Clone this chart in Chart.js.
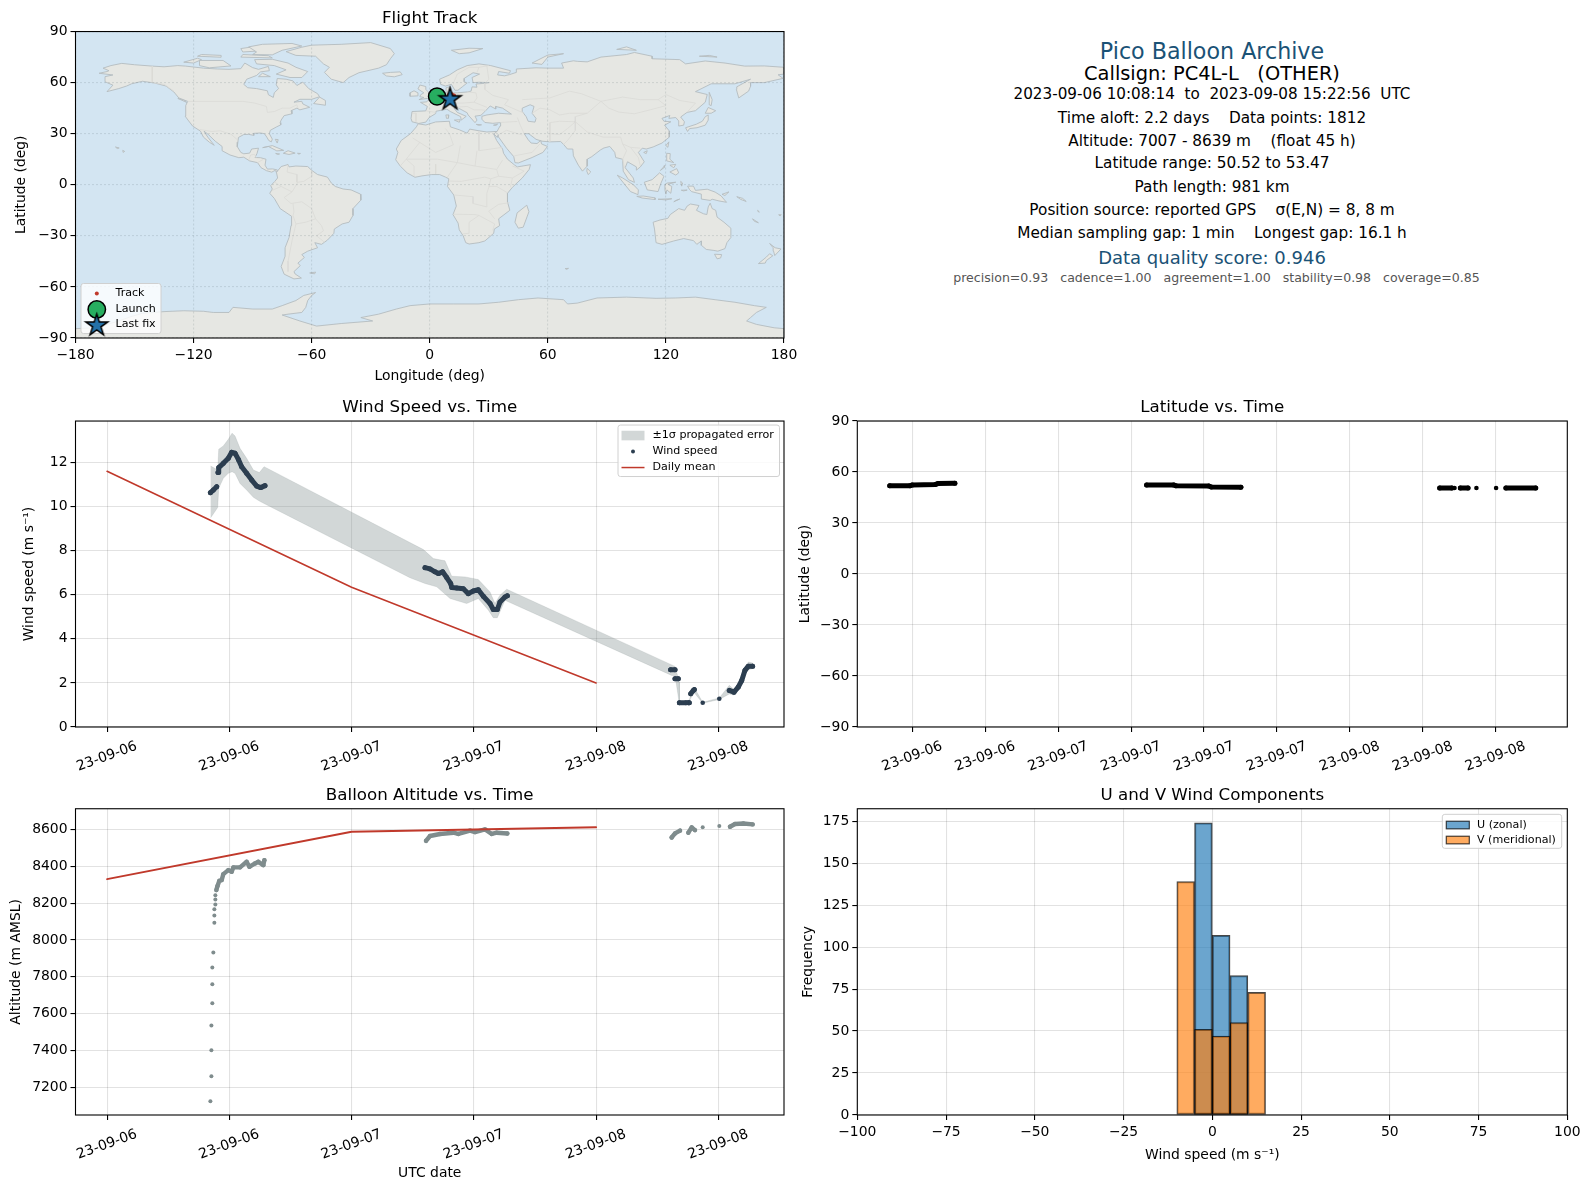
<!DOCTYPE html>
<html>
<head>
<meta charset="utf-8">
<title>Pico Balloon Archive</title>
<script src="https://cdn.jsdelivr.net/npm/chart.js@4/dist/chart.umd.js"></script>
<style>
  html, body { margin: 0; padding: 0; background: #fff; overflow: hidden; }
  body { width: 1590px; height: 1189px; position: relative; font-family: "DejaVu Sans", sans-serif; }
  canvas { position: absolute; }
  .line { position: absolute; left: 1212px; transform: translate(-50%, -50%); white-space: pre; color: #000; font-size: 15.3px; }
</style>
</head>
<body>
<script>
// ---- summary panel
const panelLines = [
  ['Pico Balloon Archive', 50.7, 22.2, '#1a5276', 1212],
  ['Callsign: PC4L-L   (OTHER)', 73, 19.4, '#000', 1212],
  ['2023-09-06 10:08:14  to  2023-09-08 15:22:56  UTC', 94.3, 15.2, '#000', 1212],
  ['Time aloft: 2.2 days    Data points: 1812', 117.6, 15.3, '#000', 1212],
  ['Altitude: 7007 - 8639 m    (float 45 h)', 141, 15.3, '#000', 1212],
  ['Latitude range: 50.52 to 53.47', 163.3, 15.3, '#000', 1212],
  ['Path length: 981 km', 186.6, 15.3, '#000', 1212],
  ['Position source: reported GPS    σ(E,N) = 8, 8 m', 210, 15.3, '#000', 1212],
  ['Median sampling gap: 1 min    Longest gap: 16.1 h', 233.3, 15.3, '#000', 1212],
  ['Data quality score: 0.946', 256.6, 18, '#1a5276', 1212],
  ['precision=0.93   cadence=1.00   agreement=1.00   stability=0.98   coverage=0.85', 277, 12.55, '#555', 1216.5]
];

// ---- ticks (time axes are hours since 2023-09-06 00:00 UTC)
const lonTicks = [-180, -120, -60, 0, 60, 120, 180];
const latTicks = [-90, -60, -30, 0, 30, 60, 90];
const wideHourTicks = [0, 12, 24, 36, 48, 60];
const wideHourLabels = ['23-09-06', '23-09-06', '23-09-07', '23-09-07', '23-09-08', '23-09-08'];
const latHourTicks = [12, 18, 24, 30, 36, 42, 48, 54, 60];
const latHourLabels = ['23-09-06', '23-09-06', '23-09-07', '23-09-07', '23-09-07', '23-09-07', '23-09-08', '23-09-08', '23-09-08'];
const windTicks = [0, 2, 4, 6, 8, 10, 12];
const altTicks = [7200, 7400, 7600, 7800, 8000, 8200, 8400, 8600];
const histXTicks = [-100, -75, -50, -25, 0, 25, 50, 75, 100];
const histYTicks = [0, 25, 50, 75, 100, 125, 150, 175];

// ---- flight track
const trackLon = [3.7, 5.5, 7.5, 9.5, 11.5, 12.5, 12.0, 11.0, 10.3];
const trackLat = [51.9, 52.3, 52.6, 52.9, 53.2, 52.6, 52.0, 51.0, 50.8];
const launchFix = [3.7, 51.9];
const lastFix = [10.3, 50.8];

// ---- wind speed
const windRun1Hours = [10.14, 10.43, 10.76];
const windRun1Speed = [10.63, 10.75, 10.90];
const windRun2Hours = [10.89, 10.96, 11.41, 11.90, 12.23, 12.56, 12.89, 13.21, 13.70, 14.20, 14.69, 15.08, 15.50];
const windRun2Speed = [11.55, 11.77, 11.96, 12.19, 12.46, 12.42, 12.14, 11.81, 11.51, 11.20, 10.93, 10.86, 10.95];
const windRun3Hours = [31.21, 31.70, 32.19, 32.52, 32.94, 33.34, 33.73, 33.83, 34.32, 34.97, 35.46, 35.95, 36.44, 36.93, 37.59, 37.91, 38.31, 38.57, 39.06, 39.29];
const windRun3Speed = [7.23, 7.17, 7.04, 6.96, 7.04, 6.78, 6.51, 6.33, 6.31, 6.27, 6.05, 6.17, 6.23, 5.93, 5.60, 5.33, 5.33, 5.67, 5.90, 5.95];
const windRun4Hours = [55.32, 55.75];
const windRun4Speed = [2.60, 2.60];
const windRun5Hours = [55.75, 56.07];
const windRun5Speed = [2.19, 2.19];
const windRun6Hours = [56.18, 56.83];
const windRun6Speed = [1.10, 1.10];
const windRun7Hours = [57.06, 57.15];
const windRun7Speed = [1.10, 1.10];
const windRun8Hours = [57.29, 57.55, 57.65];
const windRun8Speed = [1.51, 1.66, 1.70];
const windRun9Hours = [61.08, 61.54, 61.96, 62.30, 62.62, 62.95, 63.37];
const windRun9Speed = [1.66, 1.58, 1.81, 2.11, 2.57, 2.76, 2.76];
const windDotHours = [58.47, 60.10];
const windDotSpeed = [1.10, 1.28];

const bandUpper = [[10.17, 11.84], [10.86, 11.66], [10.96, 12.6], [11.41, 12.75], [11.9, 13.05], [12.27, 13.33], [12.56, 13.2], [13.05, 12.64], [13.7, 12.19], [14.36, 11.66], [14.95, 11.54], [15.41, 11.81], [31.05, 8.05], [32.03, 7.64], [33.17, 7.54], [33.83, 6.84], [35.14, 6.81], [36.44, 6.69], [37.59, 6.13], [38.08, 5.6], [38.57, 5.98], [39.23, 6.25], [55.75, 2.75], [56.18, 2.04], [56.18, 1.15], [57.06, 1.15], [57.65, 1.78], [58.47, 1.12], [60.1, 1.32], [61.08, 1.89], [61.54, 1.7], [62.3, 2.25], [62.62, 2.7], [62.95, 2.95], [63.37, 2.9]];
const bandLower = [[10.17, 9.49], [10.86, 9.96], [10.96, 10.83], [11.41, 11.28], [11.9, 11.51], [12.27, 11.58], [12.56, 11.51], [13.05, 11.05], [13.7, 10.75], [14.36, 10.42], [14.95, 10.25], [15.41, 10.14], [29.74, 6.77], [31.21, 6.51], [32.36, 6.36], [33.67, 5.83], [35.3, 5.6], [36.44, 5.83], [37.43, 5.3], [37.91, 4.96], [38.31, 4.96], [39.06, 5.75], [55.42, 2.34], [55.75, 2.34], [56.18, 1.05], [57.06, 1.05], [57.29, 1.3], [57.65, 1.55], [58.47, 1.08], [60.1, 1.25], [61.08, 1.5], [61.54, 1.45], [62.3, 1.95], [62.62, 2.4], [62.95, 2.6], [63.37, 2.65]];

const dailyHours = [0, 24, 48];
const dailyWind = [11.6, 6.34, 2.0];
const dailyAlt = [8330, 8587, 8612];

// ---- latitude
const latRun1Hours = [10.14, 11.8, 12.0, 13.9, 14.1, 15.5];
const latRun1Lat = [51.9, 51.9, 52.4, 52.7, 53.2, 53.4];
const latRun2Hours = [31.28, 33.5, 33.7, 36.4, 36.6, 39.04];
const latRun2Lat = [52.4, 52.4, 51.9, 51.8, 51.2, 51.1];
const latRun3Hours = [55.4, 56.4];
const latRun3Lat = [50.6, 50.6];
const latRun4Hours = [57.1, 57.73];
const latRun4Lat = [50.6, 50.6];
const latRun5Hours = [60.85, 63.3];
const latRun5Lat = [50.6, 50.6];
const latDotHours = [56.62, 58.42, 60.04];
const latDotLat = [50.6, 50.6, 50.6];

// ---- altitude
const riseHours = [10.14, 10.24, 10.24, 10.24, 10.33, 10.33, 10.33, 10.43, 10.53, 10.53, 10.53, 10.63, 10.63, 10.63];
const riseAlt = [7124, 7260, 7401, 7536, 7656, 7759, 7851, 7932, 8093, 8133, 8166, 8193, 8220, 8242];
const altRun1Hours = [10.73, 10.83, 11.02, 11.25, 11.41, 11.9, 12.23, 12.4, 13.05, 13.7, 13.97, 14.52, 14.85, 15.34, 15.44];
const altRun1Alt = [8271, 8292, 8321, 8325, 8357, 8379, 8370, 8394, 8394, 8424, 8397, 8415, 8424, 8406, 8433];
const altRun2Hours = [31.31, 31.7, 32.68, 33.99, 34.48, 35.63, 36.12, 37.1, 37.76, 38.25, 39.29];
const altRun2Alt = [8538, 8564, 8575, 8582, 8575, 8593, 8585, 8600, 8575, 8582, 8578];
const altRun3Hours = [55.42, 55.75, 56.24];
const altRun3Alt = [8556, 8578, 8593];
const altRun4Hours = [57.06, 57.39, 57.71];
const altRun4Alt = [8582, 8611, 8596];
const altRun5Hours = [61.15, 61.64, 62.46, 63.37];
const altRun5Alt = [8614, 8629, 8632, 8627];
const altDotHours = [58.47, 60.1];
const altDotAlt = [8611, 8618];

// ---- wind component histogram, 5 m/s bins
const uBinCenters = [-2.5, 2.5, 7.5];
const uCounts = [174, 107, 83];
const vBinCenters = [-7.5, -2.5, 2.5, 7.5, 12.5];
const vCounts = [139, 51, 47, 55, 73];

// ---- map outlines [lon, lat]
const northAmerica = [[-168,65.5],[-164,66.5],[-163,67],[-166,68.5],[-162,70],[-156.5,71.3],[-150,70.5],[-141,69.7],[-135,69.3],[-128,70],[-124,69.7],[-115,68.5],[-108,68],[-102,67.8],[-96,68.2],[-94,71.5],[-90,68.8],[-87,67.8],[-82,69.5],[-81.5,67],[-86,66.3],[-88,64.2],[-93,62],[-94.5,59],[-92.5,57],[-88,56.5],[-82.5,55.2],[-82,52.9],[-79.5,51.3],[-79,54],[-76.8,56.5],[-78,58.7],[-77.5,62.4],[-73,62],[-69.5,61],[-67.5,58.3],[-64.5,60.3],[-61.5,56.5],[-57,53.5],[-56,51.7],[-60,50.2],[-66,50.2],[-69,48.5],[-65,49],[-64.5,47.5],[-61,45.5],[-66,44],[-67.5,45],[-70.5,43.5],[-70,41.7],[-74,40.6],[-75.5,38],[-76,36.5],[-75.7,35.2],[-78,33.9],[-81,32],[-81.5,30],[-80,26.8],[-80.5,25.2],[-81.8,26],[-82.8,28],[-84,30],[-86,30.4],[-89.5,30.2],[-89.4,29],[-92,29.6],[-94.5,29.5],[-97.2,27.8],[-97.5,25],[-97.8,22.4],[-96,19],[-94.5,18.2],[-91.5,18.6],[-90.5,21],[-87,21.5],[-87.8,18.3],[-88.8,16],[-86,15.9],[-83.2,15],[-83.7,11.5],[-82.5,9.2],[-79.8,9.3],[-77.4,8.7],[-77.9,7.3],[-78.5,8.5],[-80.3,7.4],[-83,8.3],[-85.7,10],[-87.5,13],[-91.5,14],[-94.5,16.2],[-97,15.9],[-101.5,17.5],[-105.5,20],[-105.5,22.5],[-109,25.6],[-112.5,29.5],[-114.7,31.5],[-112.8,28],[-109.5,23.2],[-112,25],[-115,28],[-116.5,31.5],[-120.5,34.5],[-122.5,37.5],[-124.3,40.3],[-124,46.5],[-123,49],[-127.5,51],[-130,54.5],[-134,58],[-140,59.8],[-146,60.8],[-151.5,59.3],[-154,58],[-158,56.5],[-164,54.7],[-161,58.5],[-165,60.5],[-165,63.5],[-161,64.5],[-168,65.5]];
const greenland = [[-73,78.2],[-68,76],[-58,75.5],[-54,71],[-51,69],[-53.5,66],[-50,62],[-44,60],[-41,63],[-36,65.8],[-26,68.5],[-22,70.5],[-20,74],[-18,77],[-20,80],[-30,83.5],[-45,82.5],[-60,82],[-65,80.8],[-73,78.2]];
const baffin = [[-80,73.7],[-72,71.5],[-68,69],[-62,66.5],[-65,63],[-71,63],[-78,65],[-73,67.5],[-79,70],[-88,71],[-89,73.5],[-80,73.7]];
const victoriaIsland = [[-117,73],[-105,73],[-101,69.8],[-112,68.7],[-117,70],[-117,73]];
const banksIsland = [[-125,72],[-118,74.3],[-116,73.5],[-120,71.5],[-125,72]];
const ellesmere = [[-90,76.5],[-80,76.3],[-75,79],[-65,81.5],[-70,83],[-85,82.5],[-92,81],[-88,78],[-90,76.5]];
const devon = [[-96,75],[-80,74.5],[-82,75.8],[-95,76.5],[-96,75]];
const melville = [[-118,75.5],[-106,74.9],[-106,76],[-116,76.5],[-118,75.5]];
const axelHeiberg = [[-95,78],[-88,78.5],[-90,81],[-96,80],[-95,78]];
const southampton = [[-87,63.5],[-81,63.5],[-85,65.5],[-87,63.5]];
const newfoundland = [[-59,47.7],[-53,46.7],[-53,49.5],[-56,51.5],[-59,47.7]];
const vancouverIsland = [[-128,50.7],[-123.5,48.4],[-125,50],[-128,50.7]];
const cuba = [[-84.9,21.8],[-80,23],[-74.2,20.2],[-77.7,19.9],[-82,22.5],[-84.9,21.8]];
const hispaniola = [[-74.4,18.5],[-72,20],[-68.4,18.6],[-71.5,17.8],[-74.4,18.5]];
const jamaica = [[-78.3,18.4],[-76.3,18.1],[-77.2,17.8],[-78.3,18.4]];
const puertoRico = [[-67.2,18.5],[-65.7,18.4],[-66.5,18],[-67.2,18.5]];
const bahamas = [[-78.5,26.7],[-77,26.5],[-77.5,24.5],[-78.5,26.7]];
const hawaii = [[-156,20.2],[-155,19.6],[-155.8,19],[-156,20.2]];
const oahu = [[-159.7,22.2],[-157.8,21.6],[-158.8,21.3],[-159.7,22.2]];
const southAmerica = [[-77.9,7.3],[-75.5,10.7],[-72,11.9],[-71.5,10.5],[-68,11],[-62,10.7],[-60,8.5],[-57,6],[-52,4.5],[-50,1],[-48,-1],[-44,-2.5],[-40,-3],[-35.2,-5.5],[-35,-9],[-39,-14],[-39,-18],[-41,-22],[-44.5,-23],[-48.5,-26],[-48.7,-28.5],[-52,-32.5],[-55,-35],[-58.4,-34],[-57,-37],[-62,-39],[-65,-41],[-63.7,-42.7],[-67,-46],[-65.8,-47.5],[-69,-51],[-68.4,-52.4],[-65.2,-54.8],[-69,-55.3],[-74,-52.5],[-75.5,-48],[-73.5,-42],[-73.5,-37],[-71.5,-31],[-70.5,-24],[-70.2,-18.5],[-76,-14],[-79,-8],[-81.3,-5],[-80,-2.5],[-80.8,-0.5],[-78.7,2],[-77.3,4],[-77.9,7.3]];
const falklands = [[-61,-51.8],[-58,-51.3],[-58.5,-52.3],[-61,-51.8]];
const africa = [[-5.9,35.8],[-2,35.1],[3,36.9],[10,37.3],[10.5,34],[15,32.3],[19,30.3],[20.3,32.7],[25,31.7],[29,31],[32.3,31.2],[34.2,31.3],[32.5,29.8],[34,26],[37,21],[37.5,18.5],[39.5,15],[43.2,11.5],[44.5,10.5],[51.2,11.8],[50.5,9],[47,4],[42,-1.5],[39.5,-5],[39.5,-10],[40.7,-15],[35,-20],[35.5,-24],[32.8,-26],[32.5,-28.5],[28,-33],[25,-34],[20,-34.8],[18.3,-34],[17,-30],[15,-26.5],[14.4,-22.5],[11.8,-17.5],[13.5,-12.5],[12.2,-6],[9,-1],[9.7,3.5],[8,4.5],[5,6],[1,6],[-4,5.2],[-7.5,4.4],[-11.5,7],[-15,11],[-17.3,14.7],[-16.2,19],[-17,21],[-14.5,26],[-9.8,30],[-6.8,34],[-5.9,35.8]];
const madagascar = [[49.3,-12],[50.4,-15.8],[47.5,-24.9],[45,-25.5],[43.3,-22],[44.4,-16.5],[49.3,-12]];
const eurasia = [[-5.6,36],[-9,37],[-9.5,39],[-9,43],[-2,43.4],[-1.2,46],[-4.7,48.4],[-1.5,48.7],[-1,49.5],[2.5,51],[4.5,52.5],[7,53.5],[8.5,54],[8.3,57],[10.5,57.7],[10,55],[12,54],[14,54],[19,54.5],[21,55],[21.5,57.5],[24,57.3],[23.5,59.2],[28,59.6],[30,60],[25,60.2],[22,60],[21.5,63],[25.3,65],[22,65.8],[17.5,62.5],[17.5,60.5],[19,59.8],[16.5,57.5],[14.3,55.5],[12.8,55.5],[11,59],[8,58],[5.5,59],[5,62],[10,64.5],[14,67.5],[19,70],[25,71],[31,70],[41,67],[40.5,65.5],[35,66.5],[34.5,64.5],[38,64],[40.5,64.7],[44,66],[44,68],[54,68.7],[60,68.5],[68,68.5],[67,71.5],[73,72.8],[75,72.5],[80,72.2],[87,75],[100,76.5],[104,77.7],[113,75.5],[113,74],[127,73.5],[130,71],[140,72.7],[150,71.5],[160,69.7],[170,69.8],[180,69],[180,65],[177,64.6],[179.5,62.5],[170,60],[163,60],[163,57.8],[162,55],[157,51],[155.8,56],[156,57.5],[163,62],[155,59.3],[143,59.3],[135,54.7],[141,53],[140,48.5],[135,43.5],[130.7,42.5],[127.5,39.8],[129.4,37],[129,35],[126.5,34.5],[126.5,37.5],[125,39.5],[121.5,39],[122,40.7],[118,39],[119,37.3],[122.5,37],[119.3,35],[121.8,31.5],[121.7,28],[118,24.5],[113.5,22.2],[110,21],[108,21.5],[106,19],[109,13.5],[107,10.5],[105,8.6],[105,10.5],[100.5,13.5],[99.3,10],[103.4,4],[104,1.4],[101,3],[98.3,8],[98,15],[94.5,16],[94,19],[91.5,22.5],[88.5,21.6],[86.8,20.5],[82.3,16.5],[80,15],[80,11],[77.6,8],[75.5,11.5],[73,17],[72.7,21],[70,21],[68,23.7],[66.5,25.4],[61,25.2],[57,25.6],[54,26.7],[50.3,30],[48,30],[50,26.5],[51.5,24.5],[54.5,24.2],[56.4,26],[56.8,24],[59.8,22.5],[57.5,19],[52,16],[45,12.8],[43.3,13],[42.7,16.5],[39,21.5],[35,28],[34.8,29.5],[34.3,27.8],[32.6,29.9],[32.3,31.2],[34.2,31.3],[35.7,34.5],[36,36.5],[32,36.1],[28,36.6],[26.5,38.5],[26.5,40.2],[29,41],[35,42],[41.5,41.5],[37,45],[33.5,46],[33.5,44.5],[30.7,46.3],[28,43],[26,40.8],[23,40.3],[24,38],[23,36.5],[19.5,41],[19,42.3],[13.7,45.6],[12.3,45],[14,42.5],[18.5,40.2],[16,38],[15.7,40],[10.5,43],[8.7,44.4],[3.2,43.2],[3,41.8],[-0.3,39.5],[-2,36.8],[-5.6,36]];
const caspianSea = [[47,45],[51,47],[53,46],[52,42],[54,39],[53.5,36.8],[50,37.3],[49,40],[47,43],[47,45]];
const britain = [[-5.5,50],[1.3,51.2],[1.7,52.7],[-0.3,54],[-2,56],[-2,57.7],[-5,58.6],[-6,56.3],[-3,54],[-4.7,52.8],[-5,51.7],[-3,51.3],[-5.5,50]];
const ireland = [[-10,52],[-6.3,52.2],[-6,54],[-8,55.2],[-10,54],[-10,52]];
const iceland = [[-24,65.5],[-22,63.9],[-18,63.4],[-14,64.7],[-15,66.3],[-20,66],[-24,65.5]];
const svalbard = [[11,79],[20,80.2],[27,80],[20,77.5],[15,77],[11,79]];
const novayaZemlya = [[52,71.5],[57,70.7],[60,75],[68,77],[60,76.2],[52,71.5]];
const severnaya = [[95,79.5],[105,79],[100,81],[95,79.5]];
const newSiberian = [[137,75.5],[146,75],[142,76],[137,75.5]];
const sakhalin = [[142,54.3],[143.5,50],[143,46.5],[142,47],[142,51],[142,54.3]];
const honshu = [[130,33.5],[131,31.3],[132,33],[135.8,33.5],[140,35],[141.5,38],[141.5,41],[140,40],[138.5,37.3],[135.5,35.6],[130,33.5]];
const hokkaido = [[140,42],[141.5,45.4],[145.3,43.5],[143,42],[140,42]];
const taiwan = [[120,23],[121.5,25.2],[121,22],[120,23]];
const hainan = [[108.7,19],[110.5,20],[110,18.3],[108.7,19]];
const sriLanka = [[80,9.7],[81.8,7.5],[80.5,6],[79.8,8],[80,9.7]];
const sicily = [[12.5,38],[15.5,38.2],[15,36.7],[12.5,38]];
const sardinia = [[8.2,41],[9.7,41],[9.5,39.1],[8.5,39],[8.2,41]];
const crete = [[23.6,35.5],[26.3,35.2],[24.8,34.9],[23.6,35.5]];
const cyprus = [[32.4,35],[34.5,35.6],[33.7,34.9],[32.4,35]];
const luzon = [[120.4,18.5],[122.2,18.3],[122,15],[124,13],[120.5,14],[120.4,18.5]];
const mindanao = [[122,7.5],[125.5,9.5],[126.5,7],[125,5.7],[122,7.5]];
const visayas = [[122,11.5],[125,12],[124,10],[122,11.5]];
const palawan = [[117.2,8.4],[119.5,11.3],[119.2,10.2],[117.2,8.4]];
const borneo = [[109,1.5],[113,3],[116.8,7],[119,5],[117.5,1],[116,-4],[110.5,-3],[109,1.5]];
const sumatra = [[95.3,5.6],[98,4],[103.5,0],[106,-3],[105.8,-5.8],[102,-4],[98.5,1],[95.3,5.6]];
const java = [[105.2,-6.8],[108.5,-6.6],[114.5,-7.7],[114.5,-8.7],[108,-7.8],[105.2,-6.8]];
const sulawesi = [[119.5,0],[120.5,1],[125,1.5],[121,0.3],[123,-1],[122.5,-5],[120.5,-3],[120,-5.5],[119.5,-3],[119.5,0]];
const newGuinea = [[131,-0.8],[134,-0.8],[135,-3.3],[141,-2.6],[145,-4.3],[148,-6.5],[150.8,-10.3],[147,-9.5],[143.5,-8.5],[142.5,-9.2],[138,-8.4],[138,-5.5],[133,-4],[132,-2.8],[131,-0.8]];
const timor = [[124,-10],[127,-8.4],[125,-9.2],[124,-10]];
const flores = [[116,-8.5],[123,-8.2],[120,-8.9],[116,-8.5]];
const halmahera = [[127.5,2],[128.5,1],[128,-0.8],[127.5,2]];
const ceram = [[127.8,-3.2],[130.8,-3.1],[129,-3.6],[127.8,-3.2]];
const newBritain = [[148.5,-5.6],[152,-4.2],[150,-6.3],[148.5,-5.6]];
const solomons = [[156,-7],[159,-8],[160.8,-9.8],[158,-8.6],[156,-7]];
const vanuatu = [[166.6,-15],[167.5,-16],[166.8,-15.8],[166.6,-15]];
const newCaledonia = [[164,-20],[167,-22.3],[165,-21.5],[164,-20]];
const fiji = [[177.3,-17.6],[178.6,-17.6],[178,-18.3],[177.3,-17.6]];
const kerguelen = [[68.8,-49.2],[70.5,-49.1],[69.5,-49.7],[68.8,-49.2]];
const australia = [[113.5,-22],[114.2,-26],[115,-34],[118,-35],[124,-33],[129,-31.6],[134,-32.8],[135.7,-35],[138,-33],[138,-35.5],[140.5,-38],[144,-38.5],[146.4,-39],[150,-37.5],[151,-34],[153,-31],[153,-25.5],[149.5,-22],[146,-19],[145.3,-15],[143.5,-14],[142.5,-10.8],[141.5,-13],[140.8,-17.5],[139,-17],[135.5,-15],[136.8,-12.2],[132.5,-11.3],[130.8,-12.5],[129.5,-15],[126.5,-14],[122.2,-17.5],[121,-19.7],[117,-20.7],[113.5,-22]];
const tasmania = [[144.7,-40.8],[148.3,-41],[147.8,-43],[146,-43.5],[144.7,-40.8]];
const newZealandNorth = [[172.7,-34.5],[175.5,-37],[178.5,-37.7],[177,-39.5],[175.3,-41.6],[174.7,-39],[174.5,-37],[172.7,-34.5]];
const newZealandSouth = [[172.7,-40.5],[174.3,-41.7],[171,-44.5],[170.5,-46],[167,-46.3],[171,-42.5],[172.7,-40.5]];
const antarctica = [[-180,-90],[-180,-84.5],[-170,-84],[-158,-80],[-152,-77.5],[-146,-75.5],[-135,-74.5],[-125,-74],[-115,-74.3],[-110,-75],[-102,-75],[-100,-72],[-90,-73],[-80,-73],[-75,-71],[-68,-68],[-64,-65],[-58,-63.3],[-60,-65],[-62,-68],[-63,-72],[-65,-75],[-72,-76],[-75,-76.5],[-66,-80],[-57.5,-83],[-45,-81.5],[-29,-80],[-35,-78],[-26,-76],[-17,-73],[-10,-71],[0,-70],[12,-70],[25,-70],[35,-69],[45,-67.5],[55,-66.5],[68,-67.5],[70,-70],[75,-69.5],[85,-66.5],[100,-66],[115,-66.7],[125,-66.5],[135,-66],[145,-67.5],[155,-69],[165,-71],[171,-72],[166,-75],[163,-78],[161,-80],[166,-82],[175,-84],[180,-84.5],[180,-90],[-180,-90]];

const landShapes = [northAmerica, greenland, baffin, victoriaIsland, banksIsland, ellesmere, devon, melville, axelHeiberg, southampton, newfoundland, vancouverIsland, cuba, hispaniola, jamaica, puertoRico, bahamas, hawaii, oahu, southAmerica, falklands, africa, madagascar, eurasia, britain, ireland, iceland, svalbard, novayaZemlya, severnaya, newSiberian, sakhalin, honshu, hokkaido, taiwan, hainan, sriLanka, sicily, sardinia, crete, cyprus, luzon, mindanao, visayas, palawan, borneo, sumatra, java, sulawesi, newGuinea, timor, flores, halmahera, ceram, newBritain, solomons, vanuatu, newCaledonia, fiji, kerguelen, australia, tasmania, newZealandNorth, newZealandSouth, antarctica];

const borderLines = [
  [[-123,49],[-95,49],[-89,48],[-83,46],[-82.5,42.5],[-79,43],[-75,45],[-71,45],[-67.5,47],[-67,45]],
  [[-141,69.7],[-141,60],[-135,59],[-130,55]],
  [[-117,32.5],[-111,31.3],[-106.5,31.7],[-101,29.7],[-97.2,25.9]],
  [[-92,14.5],[-91,17.5],[-89,17.9],[-88.2,15.8]],
  [[-87.5,13],[-84.5,15]],
  [[-72,11.5],[-72.5,7.5],[-67.5,6],[-67.5,1.5]],
  [[-60,8],[-60,5],[-64,2],[-67,1.5],[-70,-4.2],[-74,-7.5],[-70.5,-11],[-65,-10],[-60,-14],[-58,-20],[-55,-24],[-54,-27],[-57.5,-30],[-53.5,-33.7]],
  [[-69.5,-18],[-68,-23],[-70,-33],[-72,-45],[-72,-51]],
  [[-69.5,-11],[-69,-16],[-69.5,-18]],
  [[-80.3,-3.4],[-75.5,-1],[-70,-4.2]],
  [[-78.7,1.5],[-75.5,-1]],
  [[-68,-23],[-63,-22],[-58,-20]],
  [[-8.7,27.5],[3,19],[12,23.5],[10,30],[8,33]],
  [[25,31.5],[25,20],[37,22]],
  [[24,20],[23,11]],
  [[15.5,23],[14,13]],
  [[3,12],[3,6.5]],
  [[14,13],[9,4.5]],
  [[9.7,2.2],[16,2],[28,4.5],[31,3.5],[35,5],[42,4],[41,-1.5]],
  [[37,14.5],[34,9],[35,5]],
  [[42,11],[48,8],[42,4]],
  [[12.5,-6],[22,-7],[22,-11],[29,-13],[29,-5],[30,-1.5],[31,3.5]],
  [[12,-17.3],[23,-17.5],[25,-18]],
  [[17,-28.8],[20,-28.5],[20,-22],[25,-18]],
  [[25,-18],[33,-23],[32,-26.8]],
  [[30,-1],[34,-1],[39.5,-4.7]],
  [[40.5,-10.5],[35,-11.5],[30,-15.5],[33,-20]],
  [[-12,15],[4,15],[14,13],[23,11],[34,9]],
  [[-5,25],[-12,15],[-15,11]],
  [[-8,5],[-8,11],[-12,15]],
  [[28,59.5],[28,56],[32,52.5],[40,50],[38,47]],
  [[38,47],[48,42]],
  [[47,50],[61,51],[71,55],[77,53.5],[87,49]],
  [[87,49],[98,51.5],[107,50],[116,50],[120,46.5],[112,44],[104,41.7],[96,42.7],[91,45],[87,49]],
  [[116,50],[120,53],[127,49.5],[135,48],[131,43],[130.7,42.5]],
  [[74,37],[80,31],[88,28],[97,28],[98,24],[102,22],[107,21.5]],
  [[87,49],[80,42],[74,40],[74,37]],
  [[74,37],[74,32],[70,26],[68,23.7]],
  [[44.5,39.5],[46,35],[48,30]],
  [[61,36.5],[61,25.2]],
  [[36,36.6],[44.5,37.2]],
  [[35,29.5],[39,32],[47,29.2]],
  [[43,17],[52,19],[56,24]],
  [[61,36.5],[66,37.3],[74,37]],
  [[61,30],[66,29.5],[70,33],[74,37]],
  [[52,42],[56,45],[61,44],[66,41],[71,42],[80,42]],
  [[98,24],[100,20],[98,15],[99,10]],
  [[102,22],[106,16],[107,11]],
  [[-1.8,43.4],[3,42.5]],
  [[-9,42],[-7,42],[-7,37.2]],
  [[2.5,51],[6,49.5],[8,49],[7.5,47.6],[7,44]],
  [[7,53.5],[6,51],[6,49.5]],
  [[14,54],[15,51],[12.5,50],[13,48],[10,47.3],[7.5,47.6]],
  [[19,54.5],[23.5,54],[24,51],[22.5,48.5],[17,48],[13,48]],
  [[22.5,48.5],[29,45.5]],
  [[13.7,45.6],[19,46],[22.5,44],[26,44],[28.5,43.7]],
  [[12,59],[12.5,61],[14,65],[20,69],[25,69],[30,70]],
  [[24,66],[25,69]],
  [[28,59.6],[30,62],[29,70]]
];

// ---- look
const FONT = '"DejaVu Sans", sans-serif';
Chart.defaults.font.family = FONT;
Chart.defaults.font.size = 13.9;
Chart.defaults.color = '#000';
const GRID = 'rgba(0,0,0,0.115)';
const minus = s => String(s).replace('-', '\u2212');
const pairs = (xs, ys) => xs.map((x, i) => ({ x: x, y: ys[i] }));
const lonLat = list => list.map(p => ({ x: p[0], y: p[1] }));

function starMarker(radius, fill) {
  const c = document.createElement('canvas');
  c.width = c.height = Math.ceil(radius * 2 + 6);
  const ctx = c.getContext('2d');
  ctx.translate(c.width / 2, c.height / 2 + 1);
  ctx.beginPath();
  for (let i = 0; i < 10; i++) {
    const r = i % 2 ? radius * 0.382 : radius;
    const a = -Math.PI / 2 + i * Math.PI / 5;
    ctx[i ? 'lineTo' : 'moveTo'](r * Math.cos(a), r * Math.sin(a));
  }
  ctx.closePath();
  ctx.fillStyle = fill;
  ctx.fill();
  ctx.lineWidth = 1.5;
  ctx.lineJoin = 'miter';
  ctx.strokeStyle = '#000';
  ctx.stroke();
  return c;
}
const blueStar = starMarker(11.5, '#2471a8');

// title centred over the plot box, black frame round it, legend box inside it
const panelPlugin = {
  id: 'panel',
  afterLayout(chart) {
    chart.titleBlock.left = chart.chartArea.left;
    chart.titleBlock.right = chart.chartArea.right;
  },
  beforeDraw(chart, args, opts) {
    if (!opts.background) return;
    const a = chart.chartArea;
    chart.ctx.fillStyle = opts.background;
    chart.ctx.fillRect(a.left, a.top, a.right - a.left, a.bottom - a.top);
  },
  afterDraw(chart, args, opts) {
    const a = chart.chartArea, ctx = chart.ctx;
    ctx.save();
    ctx.strokeStyle = '#000';
    ctx.lineWidth = 1.1;
    ctx.strokeRect(a.left, a.top, a.right - a.left, a.bottom - a.top);
    if (opts.legend) drawLegend(chart, opts.legend);
    ctx.restore();
  }
};

function drawLegend(chart, lg) {
  const ctx = chart.ctx, a = chart.chartArea;
  const x = (lg.fromRight !== undefined ? a.right - lg.fromRight : a.left + lg.fromLeft);
  const y = (lg.fromBottom !== undefined ? a.bottom - lg.fromBottom : a.top + lg.fromTop);
  ctx.beginPath();
  ctx.roundRect(x, y, lg.w, lg.h, 2.5);
  ctx.fillStyle = 'rgba(255,255,255,0.8)';
  ctx.fill();
  ctx.strokeStyle = '#d0d0d0';
  ctx.lineWidth = 1;
  ctx.stroke();
  ctx.font = '11.1px ' + FONT;
  ctx.textBaseline = 'middle';
  lg.items.forEach(it => {
    const cx = x + lg.handle + 11.5, cy = y + it.dy;
    if (it.kind === 'patch') {
      const ph = it.h || 7.6;
      ctx.fillStyle = it.fill;
      ctx.fillRect(x + lg.handle, cy - ph / 2, 23, ph);
      if (it.edge) {
        ctx.strokeStyle = it.edge;
        ctx.lineWidth = 1.2;
        ctx.strokeRect(x + lg.handle, cy - ph / 2, 23, ph);
      }
    } else if (it.kind === 'line') {
      ctx.strokeStyle = it.color;
      ctx.lineWidth = 1.5;
      ctx.beginPath();
      ctx.moveTo(x + lg.handle, cy);
      ctx.lineTo(x + lg.handle + 23, cy);
      ctx.stroke();
    } else if (it.kind === 'dot') {
      ctx.beginPath();
      ctx.arc(cx, cy, it.r, 0, Math.PI * 2);
      ctx.fillStyle = it.color;
      ctx.fill();
      if (it.edge) {
        ctx.lineWidth = 1.5;
        ctx.strokeStyle = it.edge;
        ctx.stroke();
      }
    } else if (it.kind === 'star') {
      ctx.drawImage(it.img, cx - it.img.width / 2, cy - it.img.height / 2);
    }
    ctx.fillStyle = '#000';
    ctx.fillText(it.text, x + lg.textAt, cy);
  });
}

function axis(o) {
  const horizontal = o.dir === 'x';
  const ax = {
    type: 'linear',
    position: horizontal ? 'bottom' : 'left',
    min: o.min,
    max: o.max,
    offset: false,
    afterBuildTicks(s) { s.ticks = o.ticks.map(v => ({ value: v })); },
    afterFit(s) {
      if (horizontal) s.height = o.size; else s.width = o.size;
      s.paddingLeft = s.paddingRight = s.paddingTop = s.paddingBottom = 0;
    },
    ticks: {
      autoSkip: false,
      maxRotation: o.rotate || 0,
      minRotation: o.rotate || 0,
      padding: o.tickPad === undefined ? 3 : o.tickPad,
      labelOffset: o.labelOffset || 0,
      callback: (v, i) => o.labels ? o.labels[i] : minus(v)
    },
    grid: { color: o.gridColor || GRID, lineWidth: 1.1, tickColor: '#000', tickLength: 5, offset: false, z: o.gridOver ? 1 : 0 },
    border: { display: false, dash: o.dash || [] }
  };
  if (o.title) {
    ax.title = { display: true, text: o.title, font: { size: 13.9 }, padding: o.titlePad };
  }
  return ax;
}

function makeChart(left, top, width, height, config) {
  const c = document.createElement('canvas');
  c.width = width;
  c.height = height;
  c.style.left = left + 'px';
  c.style.top = top + 'px';
  document.body.appendChild(c);
  config.options = Object.assign({ responsive: false, animation: false, events: [], layout: { padding: config.pad } }, config.options);
  config.plugins = [panelPlugin];
  return new Chart(c, config);
}

function plugins(title, titlePadTop, panel) {
  return {
    legend: { display: false },
    tooltip: { enabled: false },
    panel: panel,
    title: { display: true, text: title, font: { size: 16.7, weight: 'normal', lineHeight: 1.2 }, padding: { top: titlePadTop + 2, bottom: 3 } }
  };
}

function dotsAndLine(xs, ys, color, radius, width, order) {
  return {
    type: 'line', data: pairs(xs, ys), parsing: false, order: order,
    borderColor: color, borderWidth: width, borderCapStyle: 'round', borderJoinStyle: 'round',
    showLine: width > 0, tension: 0, pointRadius: radius, pointBorderWidth: 0, pointBackgroundColor: color, fill: false
  };
}

// ---- summary text
panelLines.forEach(l => {
  const d = document.createElement('div');
  d.className = 'line';
  d.textContent = l[0];
  d.style.top = l[1] + 'px';
  d.style.fontSize = l[2] + 'px';
  d.style.color = l[3];
  d.style.left = l[4] + 'px';
  document.body.appendChild(d);
});

// ---- flight track map
const LAND = '#e6e7e3', COAST = '#b4bcc0', BORDER = '#dadbd7', OCEAN = '#d3e5f2', MAPGRID = 'rgba(90,105,115,0.17)';
const mapSets = [];
mapSets.push({ type: 'line', data: [{ x: lastFix[0], y: lastFix[1] }], parsing: false, order: 0, showLine: false, pointStyle: blueStar, pointRadius: 12 });
mapSets.push({ type: 'line', data: [{ x: launchFix[0], y: launchFix[1] }], parsing: false, order: 1, showLine: false, pointRadius: 8.5, pointBackgroundColor: '#27ae60', pointBorderColor: '#000', pointBorderWidth: 1.5 });
mapSets.push(dotsAndLine(trackLon, trackLat, '#c0392b', 1.6, 0, 2));
borderLines.forEach(b => mapSets.push({ type: 'line', data: lonLat(b), parsing: false, order: 3, borderColor: BORDER, borderWidth: 0.8, pointRadius: 0, tension: 0, fill: false }));
mapSets.push({ type: 'line', data: lonLat(caspianSea), parsing: false, order: 4, borderColor: COAST, borderWidth: 0.9, backgroundColor: OCEAN, pointRadius: 0, tension: 0, fill: 'shape' });
landShapes.forEach(s => mapSets.push({ type: 'line', data: lonLat(s), parsing: false, order: 5, borderColor: COAST, borderWidth: 0.9, backgroundColor: LAND, pointRadius: 0, tension: 0, fill: 'shape' }));

makeChart(0, 0, 800, 385, {
  type: 'line',
  pad: { right: 16 },
  data: { datasets: mapSets },
  options: {
    plugins: plugins('Flight Track', 6.5, {
      background: OCEAN,
      legend: {
        fromLeft: 5.5, fromBottom: 54.5, w: 80, h: 50, handle: 4.3, textAt: 34.5,
        items: [
          { kind: 'dot', r: 2, color: '#c0392b', text: 'Track', dy: 10 },
          { kind: 'dot', r: 8.7, color: '#27ae60', edge: '#000', text: 'Launch', dy: 26 },
          { kind: 'star', img: blueStar, text: 'Last fix', dy: 41 }
        ]
      }
    }),
    scales: {
      x: axis({ dir: 'x', min: -180, max: 180, ticks: lonTicks, size: 47, tickPad: 4, title: 'Longitude (deg)', titlePad: { top: 0, bottom: 0.6 }, gridOver: true, dash: [2, 2], gridColor: MAPGRID }),
      y: axis({ dir: 'y', min: -90, max: 90, ticks: latTicks, size: 75.5, title: 'Latitude (deg)', titlePad: { top: 12.9, bottom: 0 }, gridOver: true, dash: [2, 2], gridColor: MAPGRID })
    }
  }
});

// ---- wind speed
const WIND = '#2c3e50', RED = '#c0392b', BAND = 'rgba(127,140,141,0.35)';
const windRuns = [[windRun1Hours, windRun1Speed], [windRun2Hours, windRun2Speed], [windRun3Hours, windRun3Speed], [windRun4Hours, windRun4Speed], [windRun5Hours, windRun5Speed], [windRun6Hours, windRun6Speed], [windRun7Hours, windRun7Speed], [windRun8Hours, windRun8Speed], [windRun9Hours, windRun9Speed]];
const windSets = [
  dotsAndLine(dailyHours, dailyWind, RED, 0, 1.6, 0),
  dotsAndLine(windDotHours, windDotSpeed, WIND, 2.3, 0, 1)
];
windRuns.forEach(r => windSets.push(dotsAndLine(r[0], r[1], WIND, 2.5, 5, 1)));
windSets.push({ type: 'line', data: lonLat(bandUpper.concat(bandLower.slice().reverse())), parsing: false, order: 2, borderColor: BAND, borderWidth: 0.5, backgroundColor: BAND, pointRadius: 0, tension: 0, fill: 'shape' });

makeChart(0, 393, 800, 395, {
  type: 'line',
  pad: { right: 16 },
  data: { datasets: windSets },
  options: {
    plugins: plugins('Wind Speed vs. Time', 3, {
      legend: {
        fromRight: 166, fromTop: 4, w: 161.5, h: 51.5, handle: 3.5, textAt: 34.5,
        items: [
          { kind: 'patch', fill: BAND, h: 9.6, text: '±1σ propagated error', dy: 10.5 },
          { kind: 'dot', r: 2, color: WIND, text: 'Wind speed', dy: 26.5 },
          { kind: 'line', color: RED, text: 'Daily mean', dy: 42.5 }
        ]
      }
    }),
    scales: {
      x: axis({ dir: 'x', min: -3.1, max: 66.45, ticks: wideHourTicks, labels: wideHourLabels, size: 61, rotate: 20, labelOffset: 29.5, tickPad: 6 }),
      y: axis({ dir: 'y', min: 0, max: 13.88, ticks: windTicks, size: 75.5, title: 'Wind speed (m s⁻¹)', titlePad: { top: 21, bottom: 0 } })
    }
  }
});

// ---- latitude vs time
const latRuns = [[latRun1Hours, latRun1Lat], [latRun2Hours, latRun2Lat], [latRun3Hours, latRun3Lat], [latRun4Hours, latRun4Lat], [latRun5Hours, latRun5Lat]];
const latSets = [dotsAndLine(latDotHours, latDotLat, '#000', 2.3, 0, 0)];
latRuns.forEach(r => latSets.push(dotsAndLine(r[0], r[1], '#000', 2.5, 5, 0)));

makeChart(790, 393, 800, 395, {
  type: 'line',
  pad: { right: 22.7 },
  data: { datasets: latSets },
  options: {
    plugins: plugins('Latitude vs. Time', 3, {}),
    scales: {
      x: axis({ dir: 'x', min: 7.47, max: 65.9, ticks: latHourTicks, labels: latHourLabels, size: 61, rotate: 20, labelOffset: 29.5, tickPad: 6 }),
      y: axis({ dir: 'y', min: -90, max: 90, ticks: latTicks, size: 67.3, title: 'Latitude (deg)', titlePad: { top: 6.6, bottom: 0 } })
    }
  }
});

// ---- altitude
const ALT = '#7f8c8d';
const altRuns = [[altRun1Hours, altRun1Alt], [altRun2Hours, altRun2Alt], [altRun3Hours, altRun3Alt], [altRun4Hours, altRun4Alt], [altRun5Hours, altRun5Alt]];
const altSets = [
  dotsAndLine(dailyHours, dailyAlt, RED, 0, 2, 0),
  dotsAndLine(riseHours, riseAlt, ALT, 2, 0, 1),
  dotsAndLine(altDotHours, altDotAlt, ALT, 2, 0, 1)
];
altRuns.forEach(r => altSets.push(dotsAndLine(r[0], r[1], ALT, 2.2, 4.4, 1)));

makeChart(0, 780, 800, 409, {
  type: 'line',
  pad: { right: 16 },
  data: { datasets: altSets },
  options: {
    plugins: plugins('Balloon Altitude vs. Time', 3.7, {}),
    scales: {
      x: axis({ dir: 'x', min: -3.1, max: 66.45, ticks: wideHourTicks, labels: wideHourLabels, size: 74, rotate: 20, labelOffset: 29.5, tickPad: 6, title: 'UTC date', titlePad: { top: 0, bottom: 7 } }),
      y: axis({ dir: 'y', min: 7050, max: 8712, ticks: altTicks, size: 75.5, labels: altTicks.map(String), title: 'Altitude (m AMSL)', titlePad: { top: 7.6, bottom: 0 } })
    }
  }
});

// ---- U / V histogram
const uFill = 'rgba(31,119,180,0.66)', vFill = 'rgba(255,127,14,0.66)', barEdge = 'rgba(0,0,0,0.72)';
makeChart(790, 780, 800, 409, {
  type: 'bar',
  pad: { right: 22.7 },
  data: {
    datasets: [
      { label: 'U (zonal)', data: pairs(uBinCenters, uCounts), order: 1, backgroundColor: uFill, borderColor: barEdge, borderWidth: 1.3, borderSkipped: false, barPercentage: 1, categoryPercentage: 1, grouped: false },
      { label: 'V (meridional)', data: pairs(vBinCenters, vCounts), order: 0, backgroundColor: vFill, borderColor: barEdge, borderWidth: 1.3, borderSkipped: false, barPercentage: 1, categoryPercentage: 1, grouped: false }
    ]
  },
  options: {
    plugins: plugins('U and V Wind Components', 3.7, {
      legend: {
        fromRight: 125, fromTop: 5.6, w: 119.4, h: 34, handle: 4, textAt: 34.7,
        items: [
          { kind: 'patch', fill: uFill, edge: barEdge, text: 'U (zonal)', dy: 10.7 },
          { kind: 'patch', fill: vFill, edge: barEdge, text: 'V (meridional)', dy: 25.7 }
        ]
      }
    }),
    scales: {
      x: axis({ dir: 'x', min: -100, max: 100, ticks: histXTicks, size: 74, tickPad: 4, title: 'Wind speed (m s⁻¹)', titlePad: { top: 0, bottom: 25.6 } }),
      y: axis({ dir: 'y', min: 0, max: 182.4, ticks: histYTicks, size: 67.3, labels: histYTicks.map(String), title: 'Frequency', titlePad: { top: 9.6, bottom: 0 } })
    }
  }
});
</script>
</body>
</html>
